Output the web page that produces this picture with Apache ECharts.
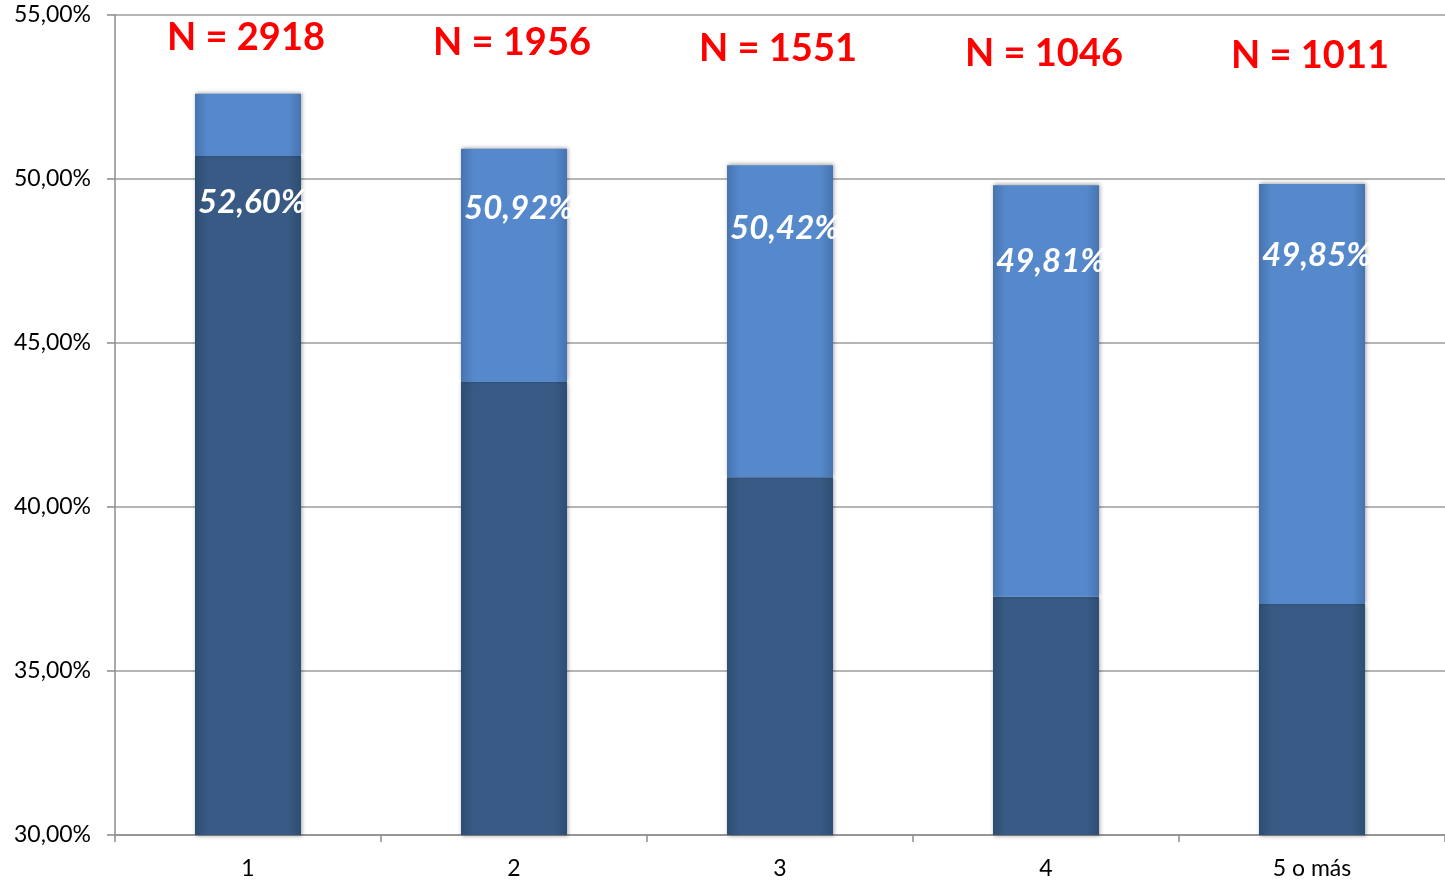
<!DOCTYPE html>
<html><head><meta charset="utf-8">
<script src="https://cdn.jsdelivr.net/npm/echarts@6/dist/echarts.min.js"></script>
<style>html,body{margin:0;padding:0;background:#fff}#c{width:1445px;height:884px}</style>
</head><body><div id="c"></div>
<script>
var categories = ['1', '2', '3', '4', '5 o más'];
var totals = [52.60, 50.92, 50.42, 49.81, 49.85];
var darkPart = [50.70, 43.81, 40.91, 37.26, 37.04];
var nLabels = ['N = 2918', 'N = 1956', 'N = 1551', 'N = 1046', 'N = 1011'];
var nLabelY = [54.30, 54.15, 53.96, 53.81, 53.75];
var valueLabelY = [49.30, 49.12, 48.51, 47.50, 47.68];
var yTicks = { min: 30, max: 55, interval: 5 };

var lightPart = totals.map(function (t, i) { return +(t - darkPart[i]).toFixed(2); });
function fmt(v) { return v.toFixed(2).replace('.', ',') + '%'; }

function hGrad(edge, mid) {
  return new echarts.graphic.LinearGradient(0, 0, 1, 0, [
    { offset: 0, color: edge }, { offset: 0.12, color: mid },
    { offset: 0.88, color: mid }, { offset: 1, color: edge }
  ]);
}

var chart = echarts.init(document.getElementById('c'));
chart.setOption({
  animation: false,
  grid: { left: 115, right: 0, top: 15, bottom: 49 },
  xAxis: {
    type: 'category', data: categories,
    axisLine: { lineStyle: { color: '#8c8c8c', width: 1.5 } },
    axisTick: { show: true, length: 7, lineStyle: { color: '#8c8c8c', width: 1.5 } },
    axisLabel: { color: '#000', fontSize: 23, fontFamily: 'Lato', margin: 22 }
  },
  yAxis: {
    type: 'value', min: yTicks.min, max: yTicks.max, interval: yTicks.interval,
    axisLine: { show: true, lineStyle: { color: '#8c8c8c', width: 1.5 } },
    axisTick: { show: true, length: 8, lineStyle: { color: '#8c8c8c', width: 1.5 } },
    splitLine: { lineStyle: { color: '#9c9c9c', width: 1.5 } },
    axisLabel: { color: '#000', fontSize: 23, fontFamily: 'Lato', margin: 24, formatter: fmt }
  },
  series: [
    {
      type: 'bar', stack: 's', data: darkPart, barWidth: 106,
      itemStyle: { color: hGrad('#2f4d72', '#385a84'), shadowColor: 'rgba(0,0,0,0.35)', shadowBlur: 4, shadowOffsetX: 1, shadowOffsetY: 1 },
      z: 2
    },
    {
      type: 'bar', stack: 's', data: lightPart, barWidth: 106,
      itemStyle: { color: hGrad('#4674b0', '#5589cb'), shadowColor: 'rgba(0,0,0,0.35)', shadowBlur: 4, shadowOffsetX: 1, shadowOffsetY: -1 },
      z: 2
    },
    {
      type: 'scatter', symbolSize: 0, z: 5, silent: true,
      itemStyle: { opacity: 1 },
      data: categories.map(function (c, i) { return [c, nLabelY[i], nLabels[i]]; }),
      label: {
        show: true, position: 'inside', color: '#ff0000', fontSize: 38, fontWeight: 'bold', fontFamily: 'Lato',
        formatter: function (p) { return p.data[2]; }, offset: [-2, 0]
      }
    },
    {
      type: 'scatter', symbolSize: 0, z: 5, silent: true,
      itemStyle: { opacity: 1 },
      data: categories.map(function (c, i) { return [c, valueLabelY[i], fmt(totals[i])]; }),
      label: {
        show: true, position: 'inside', align: 'left', color: '#ffffff', fontSize: 33, fontWeight: 'bold', fontStyle: 'italic', fontFamily: 'Lato',
        formatter: function (p) { return p.data[2]; }, offset: [-50, 0]
      }
    }
  ]
});
</script></body></html>
